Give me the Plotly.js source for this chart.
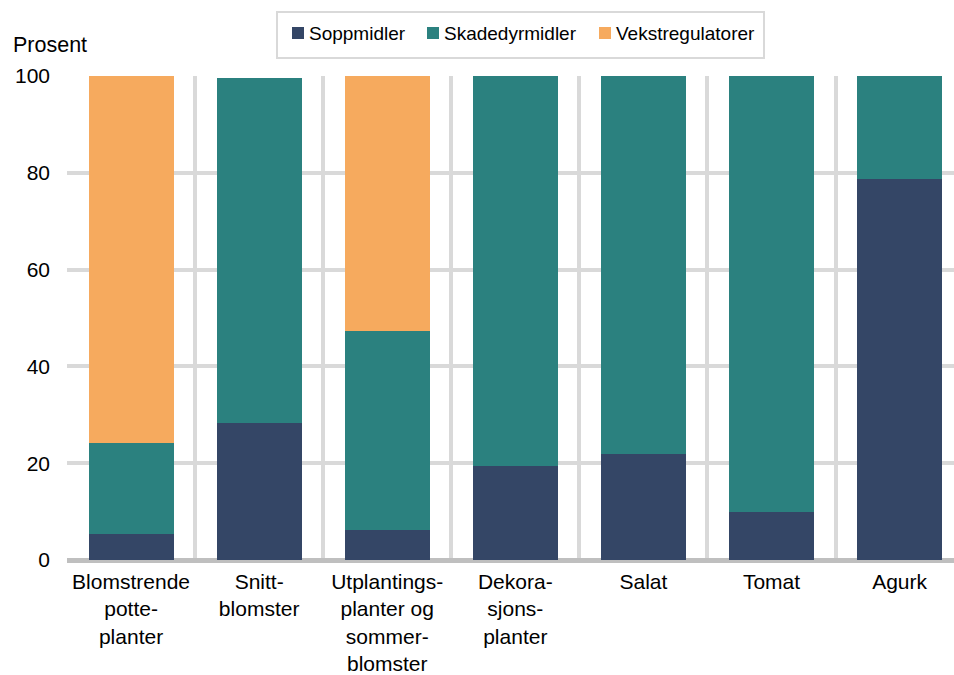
<!DOCTYPE html>
<html>
<head>
<meta charset="utf-8">
<script src="https://cdn.plot.ly/plotly-3.0.1.min.js"></script>
<style>
  html, body { margin: 0; padding: 0; background: #ffffff; }
  #chart { width: 954px; height: 675px; }
</style>
</head>
<body>
<div id="chart"></div>
<script>
// Share of each pesticide type by crop group (percent)
const categories = [
  "Blomstrende<br>potte-<br>planter",
  "Snitt-<br>blomster",
  "Utplantings-<br>planter og<br>sommer-<br>blomster",
  "Dekora-<br>sjons-<br>planter",
  "Salat",
  "Tomat",
  "Agurk"
];
const seriesNames      = ["Soppmidler", "Skadedyrmidler", "Vekstregulatorer"];
const soppmidler       = [5.4, 28.3, 6.2, 19.5, 21.8, 10.0, 78.8];
const skadedyrmidler   = [18.8, 71.3, 41.1, 80.5, 78.2, 90.0, 21.2];
const vekstregulatorer = [75.8, 0, 52.7, 0, 0, 0, 0];
const yTicks = [0, 20, 40, 60, 80, 100];

const seriesColors = ["#344666", "#2b817f", "#f6aa5e"];
const FONT = '"Liberation Sans", Arial, sans-serif';

const W = 954, H = 675;
const M = { l: 67, r: 0, t: 76, b: 115 };
const plotW = W - M.l - M.r, plotH = H - M.t - M.b;
// pixel position on the page -> paper coordinates
const px = x => (x - M.l) / plotW;
const py = y => (H - M.b - y) / plotH;

const values = [soppmidler, skadedyrmidler, vekstregulatorer];
const traces = values.map((v, i) => ({
  type: "bar",
  name: seriesNames[i],
  x: categories,
  y: v,
  marker: { color: seriesColors[i], line: { width: 0 } },
  hoverinfo: "skip",
  showlegend: false
}));

// Legend drawn as a framed row of swatches and labels above the plot
const legendBox = { x0: 277, x1: 764, y0: 12, y1: 58 };
const swatchX = [292, 427, 599];
const shapes = [{
  type: "rect", xref: "paper", yref: "paper",
  x0: px(legendBox.x0), x1: px(legendBox.x1),
  y0: py(legendBox.y1), y1: py(legendBox.y0),
  line: { color: "#d9d9d9", width: 2 },
  fillcolor: "#ffffff"
}];
const annotations = [{
  text: "Prosent",
  xref: "paper", yref: "paper",
  x: px(11), y: py(45),
  xanchor: "left", yanchor: "middle",
  showarrow: false,
  font: { family: FONT, size: 21.5, color: "#000000" }
}];
seriesNames.forEach((name, i) => {
  shapes.push({
    type: "rect", xref: "paper", yref: "paper",
    x0: px(swatchX[i]), x1: px(swatchX[i] + 12),
    y0: py(39), y1: py(27),
    line: { width: 0 },
    fillcolor: seriesColors[i]
  });
  annotations.push({
    text: name,
    xref: "paper", yref: "paper",
    x: px(swatchX[i] + 15), y: py(33),
    xanchor: "left", yanchor: "middle",
    showarrow: false,
    font: { family: FONT, size: 19, color: "#000000" }
  });
});

const layout = {
  width: W,
  height: H,
  margin: M,
  paper_bgcolor: "#ffffff",
  plot_bgcolor: "#ffffff",
  barmode: "stack",
  bargap: 0.336,
  font: { family: FONT, color: "#000000", size: 21 },
  showlegend: false,
  xaxis: {
    type: "category",
    range: [-0.5, 6.425],
    tickson: "boundaries",
    showgrid: true,
    gridcolor: "#d9d9d9",
    gridwidth: 4,
    ticks: "",
    showline: false,
    zeroline: false,
    tickfont: { family: FONT, size: 21, color: "#000000" },
    ticklabelstandoff: 7,
    fixedrange: true
  },
  yaxis: {
    range: [0, 100],
    tickvals: yTicks,
    ticktext: yTicks.map(String),
    showgrid: true,
    gridcolor: "#d9d9d9",
    gridwidth: 4,
    zeroline: true,
    zerolinecolor: "#bfbfbf",
    zerolinewidth: 5,
    ticks: "",
    showline: false,
    tickfont: { family: FONT, size: 21, color: "#000000" },
    ticklabelstandoff: 16,
    fixedrange: true
  },
  shapes: shapes,
  annotations: annotations
};

Plotly.newPlot("chart", traces, layout, { displayModeBar: false, staticPlot: true });
</script>
</body>
</html>
